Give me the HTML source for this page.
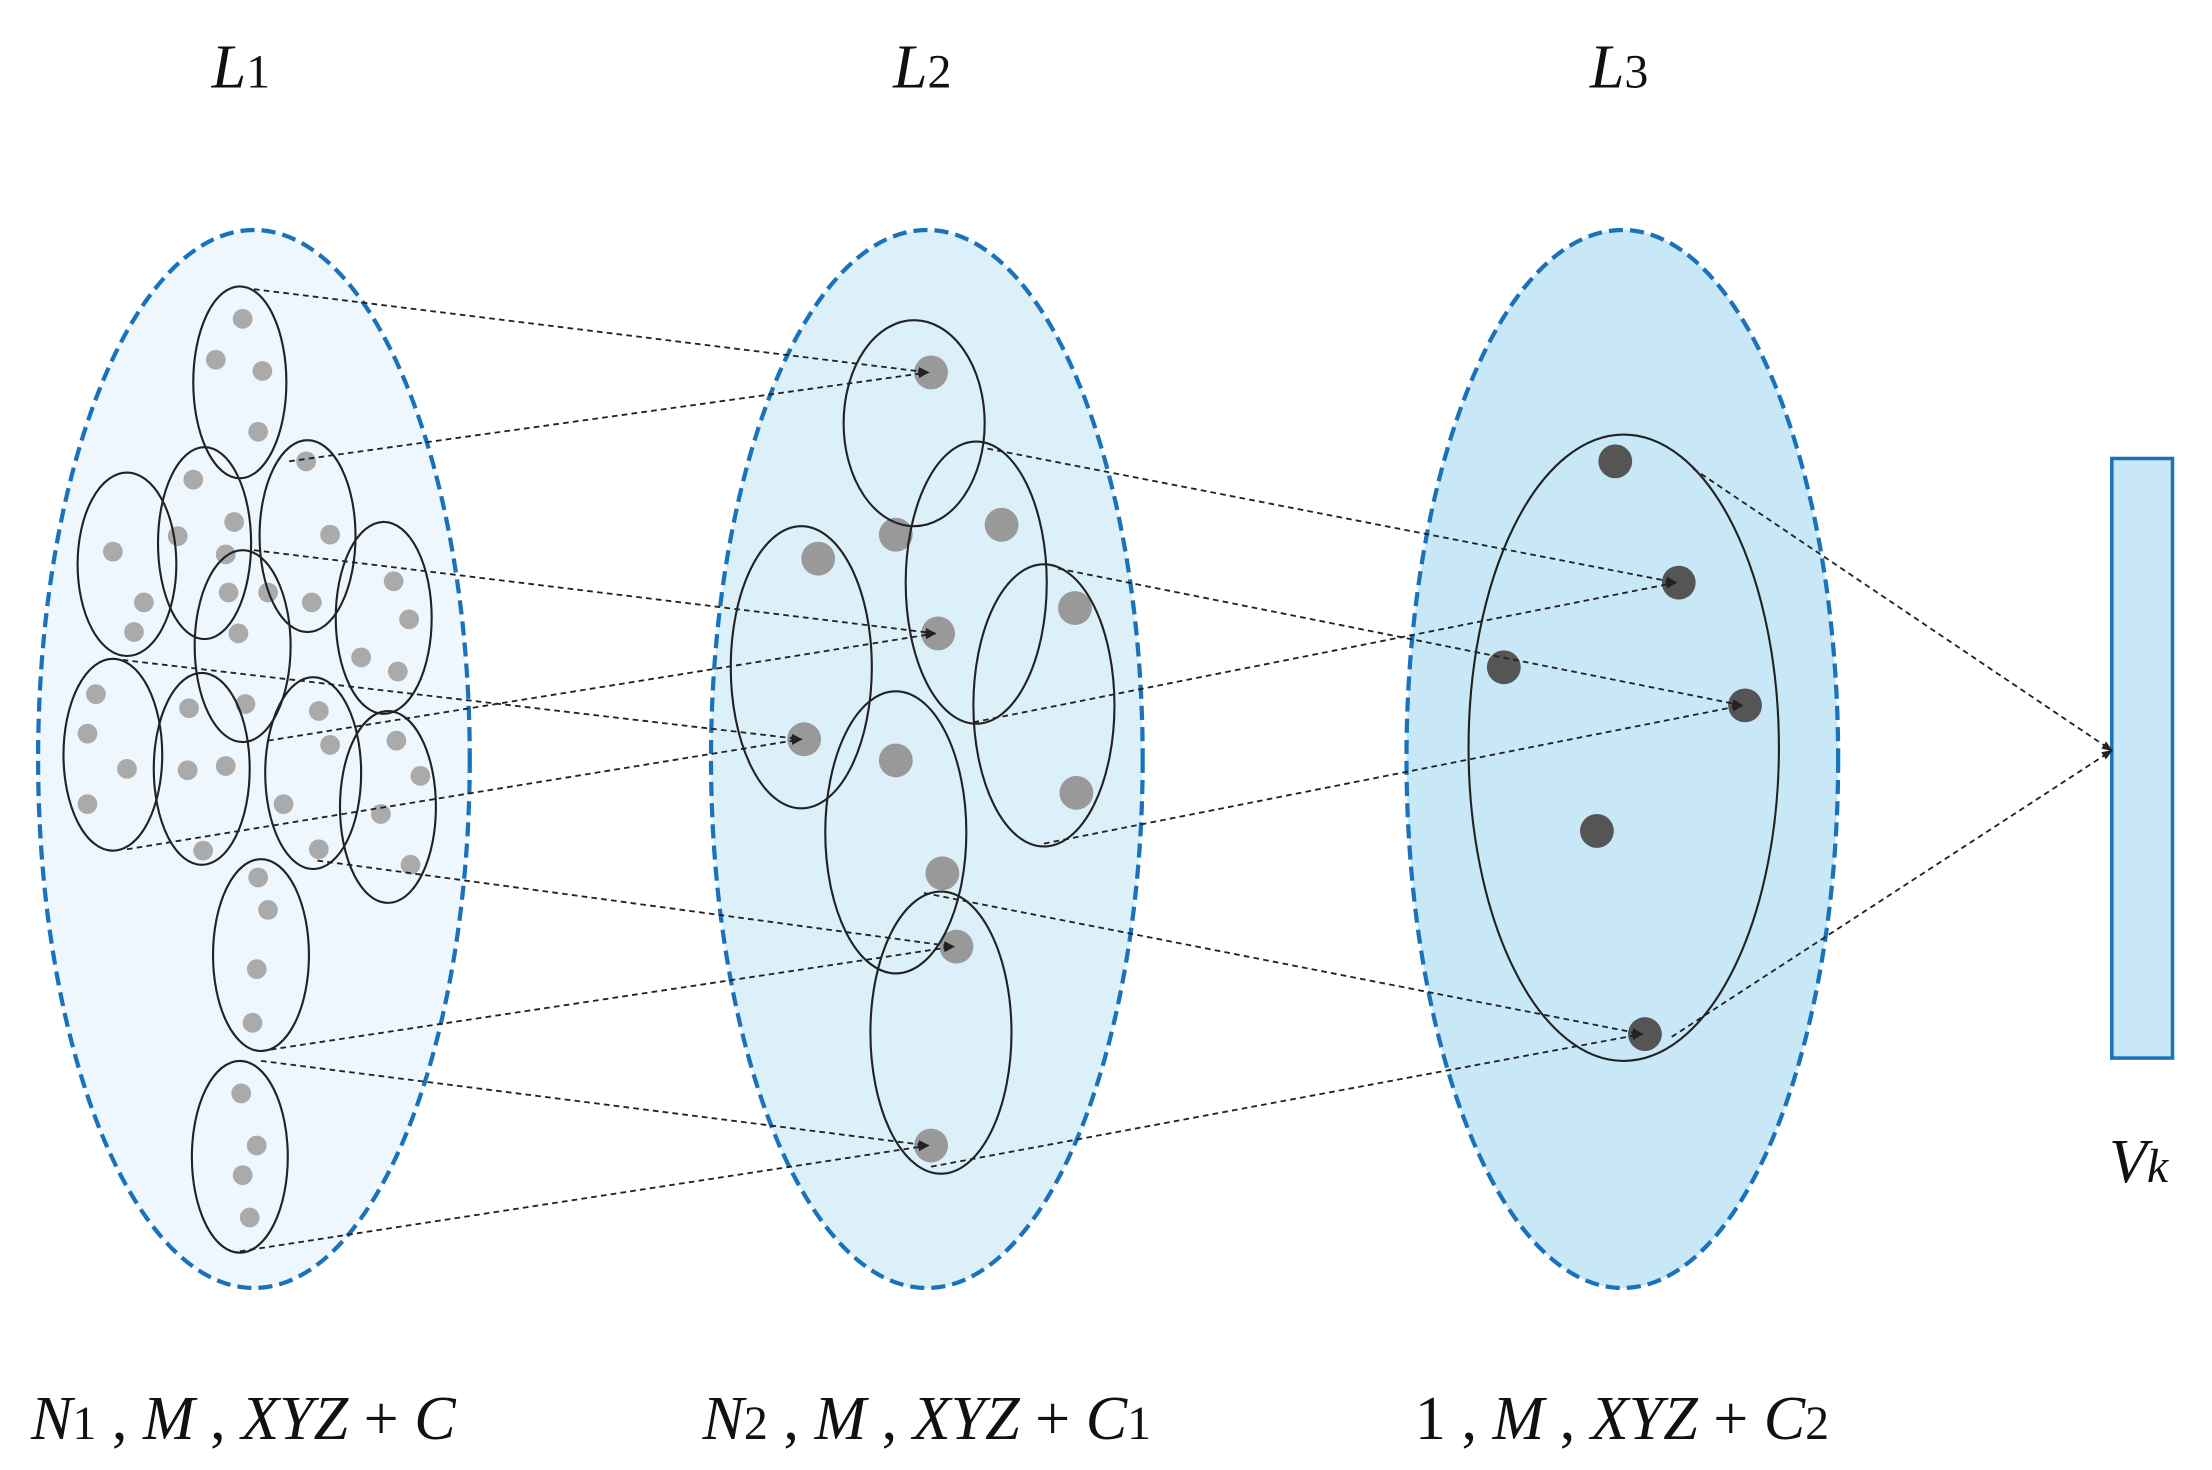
<!DOCTYPE html>
<html><head><meta charset="utf-8"><style>html,body{margin:0;padding:0;background:#fff}svg{display:block}</style></head>
<body>
<svg width="2212" height="1470" viewBox="0 0 1568 1042" preserveAspectRatio="none" xmlns="http://www.w3.org/2000/svg" font-family="Liberation Serif, serif">
<defs><marker id="a" markerWidth="8" markerHeight="6" refX="7" refY="3" orient="auto" markerUnits="userSpaceOnUse"><path d="M0,0 L8,3 L0,6 z" fill="#222"/></marker></defs>
<g stroke="#1a72bb" stroke-width="3" stroke-dasharray="10,5">
<ellipse cx="180" cy="538" rx="153" ry="375" fill="#eef7fd"/>
<ellipse cx="657" cy="538" rx="153" ry="375" fill="#dcf0fa"/>
<ellipse cx="1150" cy="538" rx="153" ry="375" fill="#c9e8f7"/>
</g>
<rect x="1497" y="325" width="43" height="425" fill="#c9e8f7" stroke="#1a72bb" stroke-width="2.5"/>
<g fill="#aaa">
<circle cx="172" cy="226" r="7"/><circle cx="153" cy="255" r="7"/><circle cx="186" cy="263" r="7"/><circle cx="183" cy="306" r="7"/>
<circle cx="137" cy="340" r="7"/><circle cx="166" cy="370" r="7"/><circle cx="126" cy="380" r="7"/><circle cx="160" cy="393" r="7"/>
<circle cx="80" cy="391" r="7"/><circle cx="102" cy="427" r="7"/><circle cx="95" cy="448" r="7"/>
<circle cx="217" cy="327" r="7"/><circle cx="234" cy="379" r="7"/><circle cx="190" cy="420" r="7"/><circle cx="221" cy="427" r="7"/>
<circle cx="279" cy="412" r="7"/><circle cx="290" cy="439" r="7"/><circle cx="256" cy="466" r="7"/><circle cx="282" cy="476" r="7"/>
<circle cx="162" cy="420" r="7"/><circle cx="169" cy="449" r="7"/><circle cx="174" cy="499" r="7"/>
<circle cx="68" cy="492" r="7"/><circle cx="62" cy="520" r="7"/><circle cx="90" cy="545" r="7"/><circle cx="62" cy="570" r="7"/>
<circle cx="134" cy="502" r="7"/><circle cx="133" cy="546" r="7"/><circle cx="160" cy="543" r="7"/><circle cx="144" cy="603" r="7"/>
<circle cx="226" cy="504" r="7"/><circle cx="234" cy="528" r="7"/><circle cx="201" cy="570" r="7"/><circle cx="226" cy="602" r="7"/>
<circle cx="281" cy="525" r="7"/><circle cx="298" cy="550" r="7"/><circle cx="270" cy="577" r="7"/><circle cx="291" cy="613" r="7"/>
<circle cx="183" cy="622" r="7"/><circle cx="190" cy="645" r="7"/><circle cx="182" cy="687" r="7"/><circle cx="179" cy="725" r="7"/>
<circle cx="171" cy="775" r="7"/><circle cx="182" cy="812" r="7"/><circle cx="172" cy="833" r="7"/><circle cx="177" cy="863" r="7"/>
</g>
<g fill="#999">
<circle cx="660" cy="264" r="12"/><circle cx="635" cy="379" r="12"/><circle cx="710" cy="372" r="12"/><circle cx="580" cy="396" r="12"/>
<circle cx="665" cy="449" r="12"/><circle cx="762" cy="431" r="12"/><circle cx="570" cy="524" r="12"/><circle cx="635" cy="539" r="12"/>
<circle cx="763" cy="562" r="12"/><circle cx="668" cy="619" r="12"/><circle cx="678" cy="671" r="12"/><circle cx="660" cy="812" r="12"/>
</g>
<g fill="#555">
<circle cx="1145" cy="327" r="12"/><circle cx="1190" cy="413" r="12"/><circle cx="1066" cy="473" r="12"/><circle cx="1237" cy="500" r="12"/><circle cx="1132" cy="589" r="12"/><circle cx="1166" cy="733" r="12"/>
</g>
<g fill="none" stroke="#222" stroke-width="1.5">
<ellipse cx="170" cy="271" rx="33" ry="68"/><ellipse cx="145" cy="385" rx="33" ry="68"/><ellipse cx="90" cy="400" rx="35" ry="65"/>
<ellipse cx="218" cy="380" rx="34" ry="68"/><ellipse cx="272" cy="438" rx="34" ry="68"/><ellipse cx="172" cy="458" rx="34" ry="68"/>
<ellipse cx="80" cy="535" rx="35" ry="68"/><ellipse cx="143" cy="545" rx="34" ry="68"/><ellipse cx="222" cy="548" rx="34" ry="68"/>
<ellipse cx="275" cy="572" rx="34" ry="68"/><ellipse cx="185" cy="677" rx="34" ry="68"/><ellipse cx="170" cy="820" rx="34" ry="68"/>
<ellipse cx="648" cy="300" rx="50" ry="73"/><ellipse cx="692" cy="413" rx="50" ry="100"/><ellipse cx="568" cy="473" rx="50" ry="100"/>
<ellipse cx="740" cy="500" rx="50" ry="100"/><ellipse cx="635" cy="590" rx="50" ry="100"/><ellipse cx="667" cy="732" rx="50" ry="100"/>
<ellipse cx="1151" cy="530" rx="110" ry="222"/>
</g>
<g stroke="#222" stroke-width="1.3" stroke-dasharray="4,3" fill="none" marker-end="url(#a)">
<line x1="180" y1="205" x2="658" y2="264"/><line x1="205" y1="327" x2="658" y2="264"/>
<line x1="180" y1="390" x2="663" y2="449"/><line x1="190" y1="525" x2="663" y2="449"/>
<line x1="80" y1="467" x2="568" y2="524"/><line x1="90" y1="602" x2="568" y2="524"/>
<line x1="225" y1="610" x2="676" y2="671"/><line x1="185" y1="745" x2="676" y2="671"/>
<line x1="185" y1="752" x2="658" y2="812"/><line x1="170" y1="887" x2="658" y2="812"/>
<line x1="700" y1="318" x2="1188" y2="413"/><line x1="690" y1="512" x2="1188" y2="413"/>
<line x1="750" y1="403" x2="1235" y2="500"/><line x1="740" y1="598" x2="1235" y2="500"/>
<line x1="655" y1="633" x2="1164" y2="733"/><line x1="660" y1="827" x2="1164" y2="733"/>
<line x1="1200" y1="332" x2="1497" y2="532"/><line x1="1185" y1="735" x2="1497" y2="532"/>
</g>
<g font-size="44" fill="#111">
<text x="150" y="62" font-style="italic">L<tspan font-style="normal" font-size="34">1</tspan></text>
<text x="633" y="62" font-style="italic">L<tspan font-style="normal" font-size="34">2</tspan></text>
<text x="1127" y="62" font-style="italic">L<tspan font-style="normal" font-size="34">3</tspan></text>
<text x="1495" y="838" font-style="italic">V<tspan font-size="34">k</tspan></text>
<text x="22" y="1020"><tspan font-style="italic">N</tspan><tspan font-size="34">1</tspan> , <tspan font-style="italic">M</tspan> , <tspan font-style="italic">XYZ</tspan> + <tspan font-style="italic">C</tspan></text>
<text x="498" y="1020"><tspan font-style="italic">N</tspan><tspan font-size="34">2</tspan> , <tspan font-style="italic">M</tspan> , <tspan font-style="italic">XYZ</tspan> + <tspan font-style="italic">C</tspan><tspan font-size="34">1</tspan></text>
<text x="1003" y="1020">1 , <tspan font-style="italic">M</tspan> , <tspan font-style="italic">XYZ</tspan> + <tspan font-style="italic">C</tspan><tspan font-size="34">2</tspan></text>
</g>
</svg>
</body></html>
